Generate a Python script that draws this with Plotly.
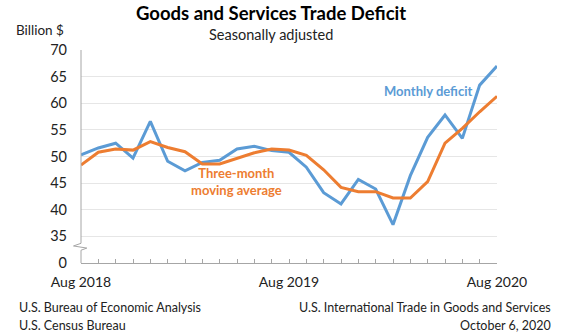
import plotly.graph_objects as go

months = ["Aug 2018", "Sep 2018", "Oct 2018", "Nov 2018", "Dec 2018", "Jan 2019", "Feb 2019",
          "Mar 2019", "Apr 2019", "May 2019", "Jun 2019", "Jul 2019", "Aug 2019", "Sep 2019",
          "Oct 2019", "Nov 2019", "Dec 2019", "Jan 2020", "Feb 2020", "Mar 2020", "Apr 2020",
          "May 2020", "Jun 2020", "Jul 2020", "Aug 2020"]
monthly_deficit = [50.3, 51.6, 52.5, 49.7, 56.6, 49.1, 47.3, 48.9, 49.3, 51.4, 51.9, 51.1, 50.8,
                   48.0, 43.2, 41.1, 45.7, 43.9, 37.2, 46.4, 53.6, 57.8, 53.4, 63.4, 67.0]
moving_average = [48.4, 50.8, 51.4, 51.2, 52.8, 51.7, 50.9, 48.6, 48.6, 49.7, 50.7, 51.4, 51.2,
                  50.2, 47.5, 44.2, 43.4, 43.4, 42.2, 42.2, 45.3, 52.5, 55.3, 58.4, 61.3]
y_ticks = [30, 35, 40, 45, 50, 55, 60, 65, 70]
y_tick_text = ["0", "35", "40", "45", "50", "55", "60", "65", "70"]
x_labels = {"Aug 2018": "Aug 2018", "Aug 2019": "Aug 2019", "Aug 2020": "Aug 2020"}

FONT = "Lato, 'Open Sans', sans-serif"
BLUE = "#5B9BD5"
ORANGE = "#ED7D31"
AXIS = "#A6A6A6"
TEXT = "#222222"

fig = go.Figure()
fig.add_trace(go.Scatter(x=months, y=monthly_deficit, mode="lines",
                         line=dict(color=BLUE, width=3), name="Monthly deficit"))
fig.add_trace(go.Scatter(x=months, y=moving_average, mode="lines",
                         line=dict(color=ORANGE, width=3), name="Three-month moving average"))

fig.update_layout(
    width=562, height=336,
    margin=dict(l=81, r=65, t=50, b=73),
    paper_bgcolor="white", plot_bgcolor="white",
    showlegend=False,
    font=dict(family=FONT, color=TEXT),
    xaxis=dict(type="category", range=[0, len(months) - 1],
               tickvals=months, ticktext=[x_labels.get(m, "") for m in months],
               ticks="inside", ticklen=4, tickcolor=AXIS, tickwidth=1,
               showline=True, linecolor=AXIS, linewidth=1, showgrid=False,
               tickfont=dict(size=14, color=TEXT), ticklabelstandoff=6, fixedrange=True),
    yaxis=dict(range=[30, 70], tickvals=y_ticks, ticktext=y_tick_text,
               showgrid=True, gridcolor="#E6E6E6", gridwidth=1, zeroline=False,
               showline=False, ticks="", tickfont=dict(size=14.5, color=TEXT),
               ticklabelstandoff=13, fixedrange=True),
)

# y-axis line with a break between 0 and 35
fig.add_shape(type="line", xref="paper", yref="y", x0=0, x1=0, y0=33.7, y1=70,
              line=dict(color=AXIS, width=1))
fig.add_shape(type="line", xref="paper", yref="y", x0=0, x1=0, y0=30, y1=32.4,
              line=dict(color=AXIS, width=1))
fig.add_shape(type="path", xref="paper", yref="y",
              path="M 0 33.7 L -0.018 33.2 L 0.014 32.8 L 0 32.4",
              line=dict(color=AXIS, width=1))

# series labels
fig.add_annotation(x=20.0, y=62.3, xref="x", yref="y", text="<b>Monthly deficit</b>",
                   showarrow=False, font=dict(size=13, color=BLUE))
fig.add_annotation(x=8.97, y=45.25, xref="x", yref="y",
                   text="<b>Three-month<br>moving average</b>",
                   showarrow=False, font=dict(size=13, color=ORANGE))


def pannot(text, px, py, size, anchor="center", bold=False):
    fig.add_annotation(x=(px - 81) / (562 - 81 - 65), y=(336 - 73 - py) / (336 - 50 - 73),
                       xref="paper", yref="paper", xanchor=anchor, yanchor="middle",
                       text=f"<b>{text}</b>" if bold else text, showarrow=False,
                       font=dict(size=size, color="#000000" if bold else TEXT))


pannot("Goods and Services Trade Deficit", 271, 12.5, 18.5, bold=True)
pannot("Seasonally adjusted", 271, 34, 14.5)
pannot("Billion $", 14, 30, 13.5, anchor="left")
pannot("U.S. Bureau of Economic Analysis", 17, 307, 12.5, anchor="left")
pannot("U.S. Census Bureau", 17, 325, 12.5, anchor="left")
pannot("U.S. International Trade in Goods and Services", 553, 307, 12.5, anchor="right")
pannot("October 6, 2020", 553, 325, 12.5, anchor="right")

fig.write_html("out.html")
